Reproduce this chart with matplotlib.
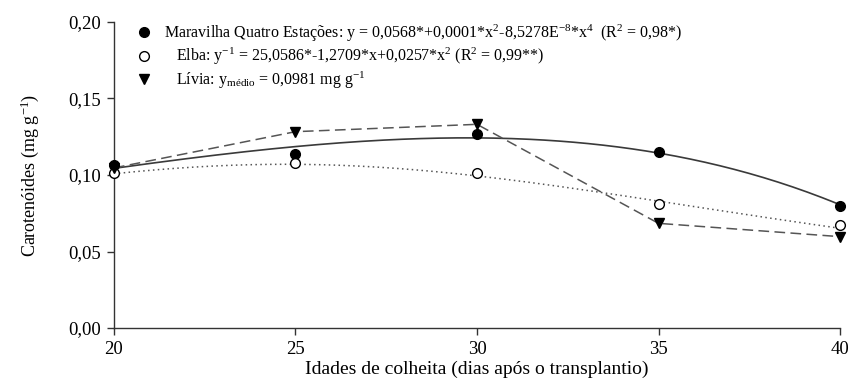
import numpy as np
import matplotlib
matplotlib.use('Agg')
import matplotlib.pyplot as plt

plt.rcParams['font.family'] = ['Liberation Serif', 'DejaVu Serif']
plt.rcParams['mathtext.fontset'] = 'custom'
plt.rcParams['mathtext.rm'] = 'Liberation Serif'
plt.rcParams['mathtext.it'] = 'Liberation Serif:italic'
plt.rcParams['mathtext.bf'] = 'Liberation Serif:bold'

# days after transplanting
dias = [20, 25, 30, 35, 40]
# carotenoids (mg g-1)
maravilha = [0.1065, 0.1140, 0.1265, 0.1150, 0.0800]
elba = [0.1015, 0.1080, 0.1010, 0.0808, 0.0673]
livia = [0.1046, 0.1283, 0.1331, 0.0684, 0.0597]

# Elba regression (from legend): 1/y = a + b*x + c*x^2
elba_coef = [25.0586, -1.2709, 0.0257]

yticks = [0.00, 0.05, 0.10, 0.15, 0.20]
yticklabels = ['0,00', '0,05', '0,10', '0,15', '0,20']
xticks = [20, 25, 30, 35, 40]

lab_mar = ('Maravilha Quatro Estações: y = 0,0568*+0,0001*x$^{2}$-8,5278E$^{-8}$*x$^{4}$'
           '  (R$^{2}$ = 0,98*)')
lab_elb = '   Elba: y$^{-1}$ = 25,0586*-1,2709*x+0,0257*x$^{2}$ (R$^{2}$ = 0,99**)'
lab_liv = '   Lívia: y$_{\\mathrm{médio}}$ = 0,0981 mg g$^{-1}$'

fig = plt.figure(figsize=(8.53, 3.85), dpi=100)
ax = fig.add_axes([0.1336, 0.148, 0.8512, 0.795])

xs = np.linspace(20, 40, 200)

# Maravilha fit y = a + b x^2 + c x^4 (least squares on the points)
d = np.array(dias, dtype=float)
A = np.column_stack([np.ones_like(d), d**2, d**4])
coef = np.linalg.lstsq(A, np.array(maravilha), rcond=None)[0]
ax.plot(xs, coef[0] + coef[1]*xs**2 + coef[2]*xs**4, color='#3a3a3a', lw=1.2, zorder=2)

ax.plot(xs, 1.0/(elba_coef[0] + elba_coef[1]*xs + elba_coef[2]*xs**2),
        color='#555555', lw=1.1, ls=(0, (1, 2.2)), zorder=2)

ax.plot(dias, livia, color='#555555', lw=1.1, ls=(0, (7, 3.5)), zorder=2)

h1, = ax.plot(dias, maravilha, 'o', color='black', ms=7, ls='none', clip_on=False, zorder=4)
h2, = ax.plot(dias, elba, 'o', mfc='white', mec='black', mew=1.0, ms=7, ls='none',
              clip_on=False, zorder=4)
h3, = ax.plot(dias, livia, 'v', color='black', ms=7, ls='none', clip_on=False, zorder=5)

ax.legend([h1, h2, h3], [lab_mar, lab_elb, lab_liv], loc='upper left',
          bbox_to_anchor=(0.02, 1.025), frameon=False, fontsize=11.5,
          handlelength=1.0, handletextpad=0.7, labelspacing=0.15, borderpad=0)

ax.set_xlim(20, 40)
ax.set_ylim(0, 0.20)
ax.set_xticks(xticks)
ax.set_xticklabels([str(x) for x in xticks])
ax.set_yticks(yticks)
ax.set_yticklabels(yticklabels)
ax.spines['top'].set_visible(False)
ax.spines['right'].set_visible(False)
for s in ['left', 'bottom']:
    ax.spines[s].set_color('#333333')
    ax.spines[s].set_linewidth(1.0)
ax.tick_params(direction='out', length=5, width=1.0, color='#333333', labelsize=13.5,
               pad=4)
ax.set_xlabel('Idades de colheita (dias após o transplantio)', fontsize=14, labelpad=2)
ax.set_ylabel('Carotenóides (mg g$^{-1}$)', fontsize=13, labelpad=20)

plt.savefig('out.png', dpi=100)
